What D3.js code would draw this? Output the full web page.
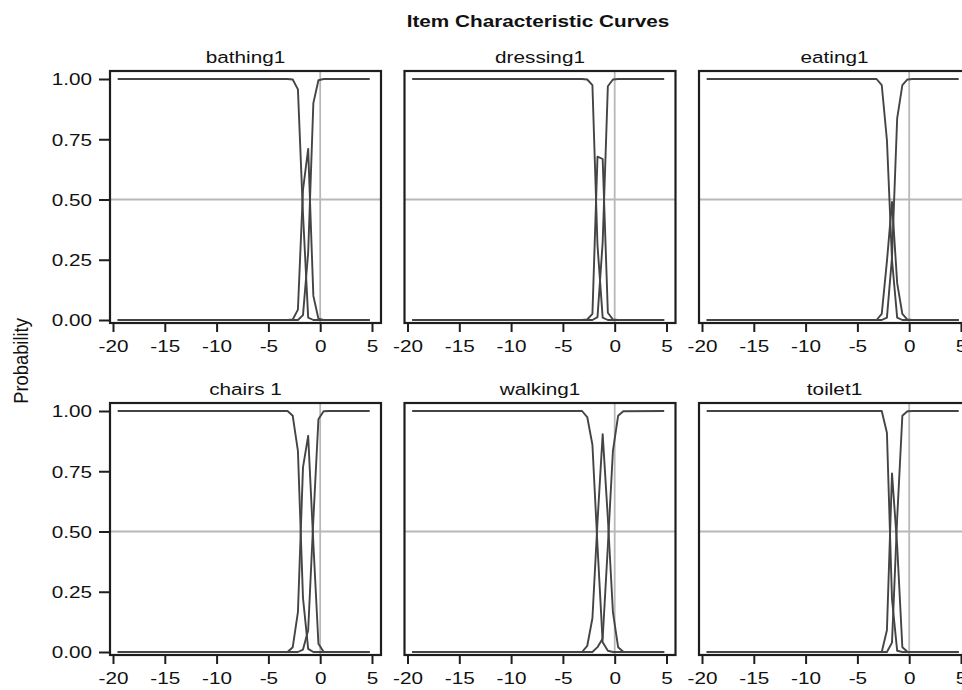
<!DOCTYPE html>
<html>
<head>
<meta charset="utf-8">
<script src="https://cdn.jsdelivr.net/npm/d3@7"></script>
<style>
  html, body { margin: 0; padding: 0; background: #fff; }
  svg { display: block; font-family: "Liberation Sans", Arial, Helvetica, sans-serif; }
</style>
</head>
<body>
<svg id="chart" width="962" height="690"></svg>
<script>
// ---- data ----
const chartTitle = "Item Characteristic Curves";
const yLabel = "Probability";
const items = ["bathing1", "dressing1", "eating1", "chairs 1", "walking1", "toilet1"];
const theta = [-19.55, -3.15, -2.65, -2.15, -1.66, -1.16, -0.66, -0.17, 0.33, 0.83, 4.78];
const xTicks = [-20, -15, -10, -5, 0, 5];
const yTicks = [0, 0.25, 0.5, 0.75, 1];

const bathing1_c0 = [1, 1, 0.998, 0.957, 0.44, 0.01, 0, 0, 0, 0, 0];
const bathing1_c1 = [0, 0, 0.002, 0.043, 0.54, 0.71, 0.10, 0.005, 0, 0, 0];
const bathing1_c2 = [0, 0, 0, 0, 0.02, 0.28, 0.90, 0.995, 1, 1, 1];

const dressing1_c0 = [1, 1, 0.998, 0.975, 0.31, 0.01, 0, 0, 0, 0, 0];
const dressing1_c1 = [0, 0, 0.002, 0.025, 0.678, 0.668, 0.03, 0.002, 0, 0, 0];
const dressing1_c2 = [0, 0, 0, 0, 0.012, 0.322, 0.97, 0.998, 1, 1, 1];

const eating1_c0 = [1, 1, 0.975, 0.747, 0.25, 0.01, 0, 0, 0, 0, 0];
const eating1_c1 = [0, 0, 0.025, 0.243, 0.49, 0.153, 0.025, 0.002, 0, 0, 0];
const eating1_c2 = [0, 0, 0, 0.01, 0.26, 0.837, 0.975, 0.998, 1, 1, 1];

const chairs1_c0 = [1, 1, 0.98, 0.835, 0.224, 0.013, 0, 0, 0, 0, 0];
const chairs1_c1 = [0, 0, 0.02, 0.165, 0.766, 0.897, 0.45, 0.034, 0.001, 0, 0];
const chairs1_c2 = [0, 0, 0, 0, 0.01, 0.09, 0.55, 0.966, 0.999, 1, 1];

const walking1_c0 = [1, 1, 0.975, 0.86, 0.44, 0.04, 0.005, 0, 0, 0, 0];
const walking1_c1 = [0, 0, 0.025, 0.14, 0.54, 0.904, 0.555, 0.165, 0.02, 0.001, 0];
const walking1_c2 = [0, 0, 0, 0, 0.02, 0.056, 0.44, 0.835, 0.98, 0.999, 1];

const toilet1_c0 = [1, 1, 1, 0.91, 0.22, 0.005, 0, 0, 0, 0, 0];
const toilet1_c1 = [0, 0, 0, 0.09, 0.741, 0.44, 0.02, 0.001, 0, 0, 0];
const toilet1_c2 = [0, 0, 0, 0, 0.039, 0.555, 0.98, 0.999, 1, 1, 1];

const curves = [
  [bathing1_c0, bathing1_c1, bathing1_c2],
  [dressing1_c0, dressing1_c1, dressing1_c2],
  [eating1_c0, eating1_c1, eating1_c2],
  [chairs1_c0, chairs1_c1, chairs1_c2],
  [walking1_c0, walking1_c1, walking1_c2],
  [toilet1_c0, toilet1_c1, toilet1_c2]
];

// ---- layout ----
const svg = d3.select("#chart");
const SX = 1.22;           // horizontal text stretch seen in the reference
const FS = 17;
const panelW = 271, panelH = 252;
const colLeft = [110, 404.5, 699];
const rowTop = [71, 403];
const lineColor = "#444444";
const refColor = "#b8b8b8";
const boxColor = "#1e1e1e";
const textColor = "#111111";

function stretchText(sel, x, y, txt, anchor, weight) {
  return sel.append("text")
    .attr("transform", `translate(${x},${y}) scale(${SX},1)`)
    .attr("text-anchor", anchor)
    .attr("font-size", FS)
    .attr("font-weight", weight || "normal")
    .attr("fill", textColor)
    .text(txt);
}

stretchText(svg, 538, 27, chartTitle, "middle", "bold");

svg.append("text")
  .attr("transform", `translate(28,361) rotate(-90) scale(1.08,${SX})`)
  .attr("text-anchor", "middle")
  .attr("font-size", FS)
  .attr("fill", textColor)
  .text(yLabel);

items.forEach((name, i) => {
  const c = i % 3, r = Math.floor(i / 3);
  const left = colLeft[c], top = rowTop[r];
  const x = d3.scaleLinear().domain([-20.29, 5.87]).range([left, left + panelW]);
  const y = d3.scaleLinear().domain([0, 1]).range([top + 249, top + 8]);
  const g = svg.append("g");

  // reference lines
  g.append("line").attr("x1", left).attr("x2", left + panelW)
    .attr("y1", y(0.5)).attr("y2", y(0.5))
    .attr("stroke", refColor).attr("stroke-width", 1.8);
  g.append("line").attr("x1", x(0)).attr("x2", x(0))
    .attr("y1", top).attr("y2", top + panelH)
    .attr("stroke", refColor).attr("stroke-width", 1.8);

  // curves
  const line = d3.line().x((d, k) => x(theta[k])).y(d => y(d));
  curves[i].forEach(vals => {
    g.append("path").attr("d", line(vals))
      .attr("fill", "none").attr("stroke", lineColor)
      .attr("stroke-width", 1.9).attr("stroke-linejoin", "round");
  });

  // box
  g.append("rect").attr("x", left).attr("y", top)
    .attr("width", panelW).attr("height", panelH)
    .attr("fill", "none").attr("stroke", boxColor).attr("stroke-width", 2.2);

  // x axis
  const xa = g.append("g").attr("transform", `translate(0,${top + panelH})`)
    .call(d3.axisBottom(x).tickValues(xTicks).tickSize(9).tickFormat(d3.format("d")));
  xa.select(".domain").remove();
  xa.selectAll(".tick line").attr("stroke", boxColor).attr("stroke-width", 2);
  xa.selectAll(".tick text")
    .attr("y", 0).attr("dy", null)
    .attr("transform", `translate(0,29) scale(${SX},1)`)
    .attr("font-size", FS).attr("font-family", null).attr("fill", textColor)
    .text(d => d < 0 ? "-" + Math.abs(d) : String(d));

  // y axis (first column only)
  if (c === 0) {
    const ya = g.append("g").attr("transform", `translate(${left},0)`)
      .call(d3.axisLeft(y).tickValues(yTicks).tickSize(11).tickFormat(d3.format(".2f")));
    ya.select(".domain").remove();
    ya.selectAll(".tick line").attr("stroke", boxColor).attr("stroke-width", 2);
    ya.selectAll(".tick text")
      .attr("x", 0).attr("dy", "0.35em")
      .attr("transform", `translate(-18,0) scale(${SX},1)`)
      .attr("font-size", FS).attr("font-family", null).attr("fill", textColor);
  }

  // panel title
  stretchText(g, left + panelW / 2, top - 8, name, "middle");
});
</script>
</body>
</html>
